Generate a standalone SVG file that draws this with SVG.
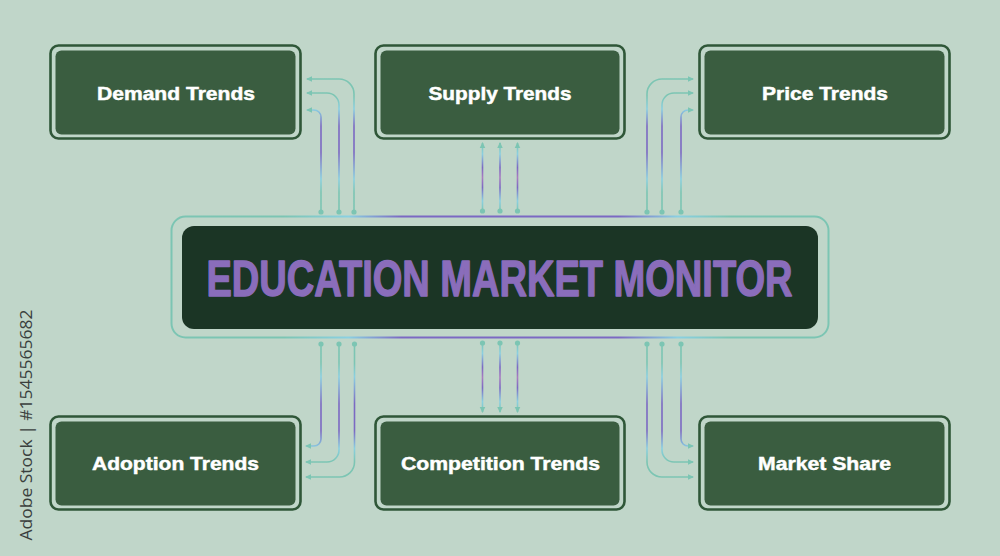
<svg xmlns="http://www.w3.org/2000/svg" width="1000" height="556" viewBox="0 0 1000 556">
  <defs>
    <style>
      .box-outer { fill: #c0d6c9; stroke: #2f5738; stroke-width: 2.6; }
      .box-inner { fill: #3a5d40; }
      .label { font-family: "Liberation Sans", Arial, sans-serif; font-weight: bold; font-size: 17.5px; fill: #ffffff; stroke: #ffffff; stroke-width: 0.45; text-anchor: middle; }
      .title { font-family: "Liberation Sans", Arial, sans-serif; font-weight: bold; font-size: 50px; fill: #8a6dbb; stroke: #8a6dbb; stroke-width: 1.4; stroke-linejoin: round; }
      .conn { fill: none; stroke-width: 1.6; }
      .dot { fill: #7cc5b3; }
      .credit { font-family: "Open Sans", "Liberation Sans", sans-serif; font-size: 16px; fill: #3a3f3d; text-anchor: middle; }
    </style>
    <marker id="arr" viewBox="0 0 6 6" refX="5" refY="3" markerWidth="6.5" markerHeight="6.5" markerUnits="userSpaceOnUse" orient="auto">
      <path d="M0,0.3 L6,3 L0,5.7 z" fill="#7cc5b3"/>
    </marker>
    <linearGradient id="gTop" gradientUnits="userSpaceOnUse" x1="0" y1="212" x2="0" y2="80">
      <stop offset="0" stop-color="#7cc5b3"/>
      <stop offset="0.15" stop-color="#7cc5b3"/>
      <stop offset="0.25" stop-color="#8ad0e2"/>
      <stop offset="0.45" stop-color="#7b69c3"/>
      <stop offset="0.65" stop-color="#7b69c3"/>
      <stop offset="0.78" stop-color="#8ad0e2"/>
      <stop offset="0.88" stop-color="#7cc5b3"/>
      <stop offset="1" stop-color="#7cc5b3"/>
    </linearGradient>
    <linearGradient id="gBot" gradientUnits="userSpaceOnUse" x1="0" y1="343" x2="0" y2="478">
      <stop offset="0" stop-color="#7cc5b3"/>
      <stop offset="0.15" stop-color="#7cc5b3"/>
      <stop offset="0.25" stop-color="#8ad0e2"/>
      <stop offset="0.45" stop-color="#7b69c3"/>
      <stop offset="0.65" stop-color="#7b69c3"/>
      <stop offset="0.78" stop-color="#8ad0e2"/>
      <stop offset="0.88" stop-color="#7cc5b3"/>
      <stop offset="1" stop-color="#7cc5b3"/>
    </linearGradient>
    <linearGradient id="gMidTop" gradientUnits="userSpaceOnUse" x1="0" y1="211" x2="0" y2="144">
      <stop offset="0" stop-color="#7cc5b3"/>
      <stop offset="0.15" stop-color="#8ad0e2"/>
      <stop offset="0.35" stop-color="#7b69c3"/>
      <stop offset="0.5" stop-color="#a97cc0"/>
      <stop offset="0.65" stop-color="#7b69c3"/>
      <stop offset="0.85" stop-color="#8ad0e2"/>
      <stop offset="1" stop-color="#7cc5b3"/>
    </linearGradient>
    <linearGradient id="gMidBot" gradientUnits="userSpaceOnUse" x1="0" y1="343" x2="0" y2="412">
      <stop offset="0" stop-color="#7cc5b3"/>
      <stop offset="0.15" stop-color="#8ad0e2"/>
      <stop offset="0.35" stop-color="#7b69c3"/>
      <stop offset="0.5" stop-color="#a97cc0"/>
      <stop offset="0.65" stop-color="#7b69c3"/>
      <stop offset="0.85" stop-color="#8ad0e2"/>
      <stop offset="1" stop-color="#7cc5b3"/>
    </linearGradient>
    <linearGradient id="gFrame" gradientUnits="userSpaceOnUse" x1="171" y1="0" x2="829" y2="0">
      <stop offset="0" stop-color="#7cc5b3"/>
      <stop offset="0.17" stop-color="#7cc5b3"/>
      <stop offset="0.27" stop-color="#8ad0e2"/>
      <stop offset="0.35" stop-color="#7b69c3"/>
      <stop offset="0.68" stop-color="#7b69c3"/>
      <stop offset="0.77" stop-color="#8ad0e2"/>
      <stop offset="0.85" stop-color="#7cc5b3"/>
      <stop offset="1" stop-color="#7cc5b3"/>
    </linearGradient>
  </defs>

  <rect x="0" y="0" width="1000" height="556" fill="#c0d6c9"/>

  <text class="credit" transform="translate(32,425) rotate(-90)" textLength="231" lengthAdjust="spacingAndGlyphs">Adobe Stock | #1545565682</text>

  <g id="connectors">
    <g stroke="url(#gTop)" class="conn">
      <path class="conn" d="M354,212 V94 A15,15 0 0 0 339,79 H307" marker-end="url(#arr)"/>
      <path class="conn" d="M339,212 V105 A12,12 0 0 0 327,93 H307" marker-end="url(#arr)"/>
      <path class="conn" d="M321,212 V117 A7,7 0 0 0 314,110 H307" marker-end="url(#arr)"/>
      <path class="conn" d="M647,212 V94 A15,15 0 0 1 662,79 H693" marker-end="url(#arr)"/>
      <path class="conn" d="M662,212 V105 A12,12 0 0 1 674,93 H693" marker-end="url(#arr)"/>
      <path class="conn" d="M681,212 V117 A7,7 0 0 1 688,110 H693" marker-end="url(#arr)"/>
    </g>
    <g stroke="url(#gMidTop)" class="conn">
      <path class="conn" d="M482.5,211 V143" marker-end="url(#arr)"/>
      <path class="conn" d="M500,211 V143" marker-end="url(#arr)"/>
      <path class="conn" d="M517.5,211 V143" marker-end="url(#arr)"/>
    </g>
    <g stroke="url(#gBot)" class="conn">
      <path class="conn" d="M321,344 V439 A7,7 0 0 1 314,446 H306" marker-end="url(#arr)"/>
      <path class="conn" d="M339,344 V450 A12,12 0 0 1 327,462 H306" marker-end="url(#arr)"/>
      <path class="conn" d="M354.5,344 V462 A15,15 0 0 1 339.5,477 H306" marker-end="url(#arr)"/>
      <path class="conn" d="M681,344 V439 A7,7 0 0 0 688,446 H693" marker-end="url(#arr)"/>
      <path class="conn" d="M662,344 V450 A12,12 0 0 0 674,462 H693" marker-end="url(#arr)"/>
      <path class="conn" d="M647,344 V462 A15,15 0 0 0 662,477 H693" marker-end="url(#arr)"/>
    </g>
    <g stroke="url(#gMidBot)" class="conn">
      <path class="conn" d="M482.5,343 V412" marker-end="url(#arr)"/>
      <path class="conn" d="M500,343 V412" marker-end="url(#arr)"/>
      <path class="conn" d="M517.5,343 V412" marker-end="url(#arr)"/>
    </g>
    <g class="dot">
      <circle cx="321" cy="212" r="2.6"/><circle cx="339" cy="212" r="2.6"/><circle cx="354" cy="212" r="2.6"/>
      <circle cx="482.5" cy="211" r="2.6"/><circle cx="500" cy="211" r="2.6"/><circle cx="517.5" cy="211" r="2.6"/>
      <circle cx="647" cy="212" r="2.6"/><circle cx="662" cy="212" r="2.6"/><circle cx="681" cy="212" r="2.6"/>
      <circle cx="321" cy="344" r="2.6"/><circle cx="339" cy="344" r="2.6"/><circle cx="354.5" cy="344" r="2.6"/>
      <circle cx="482.5" cy="343" r="2.6"/><circle cx="500" cy="343" r="2.6"/><circle cx="517.5" cy="343" r="2.6"/>
      <circle cx="647" cy="344" r="2.6"/><circle cx="662" cy="344" r="2.6"/><circle cx="681" cy="344" r="2.6"/>
    </g>
  </g>

  <g id="center">
    <rect x="171.5" y="216.5" width="657" height="121" rx="14" fill="none" stroke="url(#gFrame)" stroke-width="2"/>
    <rect x="182" y="226" width="636" height="103" rx="12" fill="#1b3525"/>
    <text class="title" x="206.5" y="296" textLength="586" lengthAdjust="spacingAndGlyphs">EDUCATION MARKET MONITOR</text>
  </g>

  <g id="demand">
    <rect class="box-outer" x="50.5" y="45.5" width="250" height="93" rx="8"/>
    <rect class="box-inner" x="55.5" y="50.5" width="240" height="84" rx="6"/>
    <text class="label" x="176" y="100" textLength="158" lengthAdjust="spacingAndGlyphs">Demand Trends</text>
  </g>
  <g id="supply">
    <rect class="box-outer" x="375.5" y="45.5" width="249" height="93" rx="8"/>
    <rect class="box-inner" x="380.5" y="50.5" width="239" height="84" rx="6"/>
    <text class="label" x="500" y="100" textLength="143" lengthAdjust="spacingAndGlyphs">Supply Trends</text>
  </g>
  <g id="price">
    <rect class="box-outer" x="699.5" y="45.5" width="250" height="93" rx="8"/>
    <rect class="box-inner" x="704.5" y="50.5" width="240" height="84" rx="6"/>
    <text class="label" x="825" y="100" textLength="126" lengthAdjust="spacingAndGlyphs">Price Trends</text>
  </g>
  <g id="adoption">
    <rect class="box-outer" x="50.5" y="416.5" width="250" height="93" rx="8"/>
    <rect class="box-inner" x="55.5" y="421.5" width="240" height="84" rx="6"/>
    <text class="label" x="175.5" y="470" textLength="167" lengthAdjust="spacingAndGlyphs">Adoption Trends</text>
  </g>
  <g id="competition">
    <rect class="box-outer" x="375.5" y="416.5" width="249" height="93" rx="8"/>
    <rect class="box-inner" x="380.5" y="421.5" width="239" height="84" rx="6"/>
    <text class="label" x="500.5" y="470" textLength="199" lengthAdjust="spacingAndGlyphs">Competition Trends</text>
  </g>
  <g id="market-share">
    <rect class="box-outer" x="699.5" y="416.5" width="250" height="93" rx="8"/>
    <rect class="box-inner" x="704.5" y="421.5" width="240" height="84" rx="6"/>
    <text class="label" x="824.5" y="470" textLength="133" lengthAdjust="spacingAndGlyphs">Market Share</text>
  </g>
</svg>
